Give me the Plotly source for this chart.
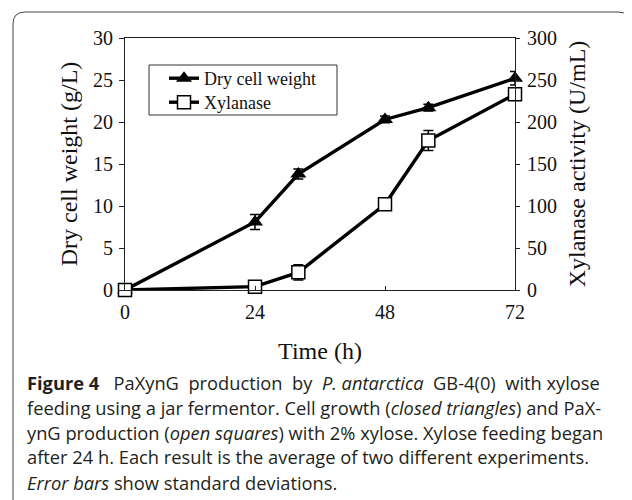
import plotly.graph_objects as go

time_dcw = [0, 24, 32, 48, 56, 72]
dcw = [0, 8.1, 13.8, 20.3, 21.7, 25.2]
dcw_err = [0, 0.9, 0.6, 0.4, 0.4, 0.8]

time_xyl = [0, 24, 32, 48, 56, 72]
xylanase = [0, 4, 21, 102, 178, 233]
xyl_err = [0, 0, 9, 0, 12, 5]

x_ticks = [0, 24, 48, 72]
y1_ticks = [0, 5, 10, 15, 20, 25, 30]
y2_ticks = [0, 50, 100, 150, 200, 250, 300]

NB = "\u00a0"
caption_lines = [
    f"<b>Figure 4</b>{NB}{NB} PaXynG{NB} production{NB} by{NB} <i>P. antarctica</i>{NB} GB-4(0){NB} with xylose",
    "feeding using a jar fermentor. Cell growth (<i>closed triangles</i>) and PaX-",
    "ynG production (<i>open squares</i>) with 2% xylose. Xylose feeding began",
    "after 24 h. Each result is the average of two different experiments.",
    "<i>Error bars</i> show standard deviations.",
]

serif = "Liberation Serif, Times New Roman, serif"
sans = "Open Sans, Noto Sans, sans-serif"

OFF = 8  # page body margin of the browser
W, H = 632, 500
L, R, T, B = 125 - OFF, 515 - OFF, 38 - OFF, 290 - OFF


def px(xp):
    return (xp - OFF - L) / (R - L)


def py(yp):
    return (B - (yp - OFF)) / (B - T)


fig = go.Figure()
fig.add_trace(go.Scatter(
    x=time_dcw, y=dcw, name="Dry cell weight", mode="lines+markers",
    line=dict(color="black", width=3.4),
    marker=dict(symbol="triangle-up", size=14, color="black"),
    error_y=dict(type="data", array=dcw_err, color="black", thickness=1.5, width=5),
    yaxis="y", cliponaxis=False, legend="legend",
))
fig.add_trace(go.Scatter(
    x=time_xyl, y=xylanase, name="Xylanase", mode="lines+markers",
    line=dict(color="black", width=3.4),
    marker=dict(symbol="square", size=13, color="white", line=dict(color="black", width=1.5)),
    error_y=dict(type="data", array=xyl_err, color="black", thickness=1.5, width=5),
    yaxis="y2", cliponaxis=False, legend="legend2",
))

axis_common = dict(showgrid=False, zeroline=False, showline=True, linecolor="#222",
                   linewidth=1, tickcolor="#222", tickfont=dict(family=serif, size=20, color="#111"))
title_font = dict(family=serif, size=24, color="#111")
legend_common = dict(xanchor="left", yanchor="top", bgcolor="rgba(0,0,0,0)", borderwidth=0,
                     font=dict(family=serif, size=18, color="#111"), itemwidth=30)

fig.update_layout(
    width=W, height=H,
    margin=dict(l=L, r=W - R, t=T, b=H - B, pad=0),
    paper_bgcolor="white", plot_bgcolor="white",
    showlegend=True,
    legend=dict(x=px(164), y=py(60), **legend_common),
    legend2=dict(x=px(164), y=py(84), **legend_common),
    xaxis=dict(range=[0, 72], tickvals=x_ticks, ticks="inside", ticklen=4, mirror=True,
               ticklabelstandoff=4,
               title=dict(text="Time (h)", font=title_font, standoff=20),
               **axis_common),
    yaxis=dict(range=[0, 30], tickvals=y1_ticks, ticks="outside", ticklen=5,
               ticklabelstandoff=2,
               title=dict(text="Dry cell weight (g/L)", font=title_font, standoff=8),
               **axis_common),
    yaxis2=dict(range=[0, 300], tickvals=y2_ticks, ticks="outside", ticklen=4, overlaying="y", side="right",
                ticklabelstandoff=3,
                title=dict(text="Xylanase activity (U/mL)", font=title_font, standoff=12),
                **axis_common),
)

# legend frame
fig.add_shape(type="rect", xref="paper", yref="paper",
              x0=px(149), x1=px(337), y0=py(65), y1=py(115),
              line=dict(color="#333", width=1), fillcolor="white", layer="below")

# outer rounded frame (open at the bottom)
fig.add_shape(type="path", xref="paper", yref="paper",
              path="M {x0},{y0} L {x0},{y1} Q {x0},{y2} {x3},{y2} L {x4},{y2} Q {x5},{y2} {x5},{y1} L {x5},{y0}".format(
                  x0=px(13), y0=py(520), y1=py(24), y2=py(12),
                  x3=px(25), x4=px(618), x5=px(630)),
              line=dict(color="#444", width=1))

cap_font = dict(family=sans, size=18.3, color="#231f20")
baselines = [388, 413, 438, 463, 488]
for txt, yb in zip(caption_lines, baselines):
    fig.add_annotation(text=txt, xref="paper", yref="paper",
                       x=px(25), y=py(yb - 6),
                       xanchor="left", yanchor="middle", showarrow=False,
                       font=cap_font, align="left")

fig.write_html("out.html")
